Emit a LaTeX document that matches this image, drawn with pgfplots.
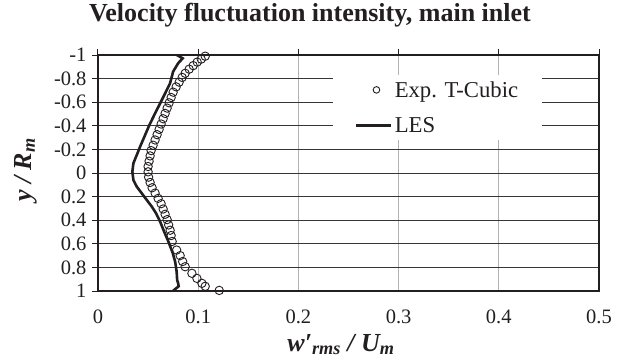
\documentclass[border=0pt]{standalone}
\usepackage{pgfplots}
\pgfplotsset{compat=1.18}
\usepackage{fontspec}
\setmainfont{Liberation Serif}
\definecolor{ink}{HTML}{231F20}
\begin{document}
\begin{tikzpicture}[x=1pt,y=1pt]
\begin{axis}[
  at={(0pt,0pt)}, anchor=south west,
  scale only axis, width=501pt, height=236pt,
  xmin=0, xmax=0.5, ymin=-1, ymax=1, y dir=reverse,
  xtick={0,0.1,0.2,0.3,0.4,0.5},
  xticklabels={0,0.1,0.2,0.3,0.4,0.5},
  ytick={-1,-0.8,-0.6,-0.4,-0.2,0,0.2,0.4,0.6,0.8,1},
  yticklabels={-1,-0.8,-0.6,-0.4,-0.2,0,0.2,0.4,0.6,0.8,1},
  xtick pos=upper, xticklabel pos=lower,
  ytick pos=left,
  tick align=outside,
  major tick length=6pt,
  tick style={ink, line width=1pt},
  tick label style={font=\fontsize{20.5}{22}\selectfont, text=ink},
  xticklabel style={yshift=-9pt},
  yticklabel style={xshift=-2pt},
  xmajorgrids, ymajorgrids,
  x grid style={black!30, line width=1pt},
  y grid style={ink!90, line width=0.9pt},
  axis line style={ink, line width=1.5pt},
  title={\fontsize{26}{28}\selectfont\bfseries Velocity fluctuation intensity, main inlet},
  title style={at={(axis description cs:0.423,1)}, anchor=base, yshift=28pt, text=ink},
  xlabel={\fontsize{26}{28}\selectfont\bfseries\itshape w′\textsubscript{rms} / U\textsubscript{m}},
  xlabel style={at={(axis description cs:0.485,0)}, anchor=base, yshift=-60pt, text=ink},
  ylabel={\fontsize{26}{28}\selectfont\bfseries\itshape y / R\textsubscript{m}},
  ylabel style={at={(axis description cs:-0.145,0.513)}, anchor=center, text=ink},
  legend style={at={(axis description cs:0.469,0.915)}, anchor=north west,
    draw=none, fill=white, font=\fontsize{22.7}{24}\selectfont, text=ink,
    inner xsep=22pt, inner ysep=4pt, row sep=15pt},
  legend cell align=left,
]
\addplot[only marks, mark=o, mark size=4.2pt, ink, mark options={line width=0.9pt},
  legend image code/.code={\path[draw=none] (0pt,0pt) -- (35pt,0pt);
    \draw[ink, line width=0.9pt, fill=none] (20pt,0pt) circle (3.3pt);}]
coordinates {
(0.107,-0.99) (0.103,-0.965) (0.099,-0.94) (0.095,-0.91) (0.091,-0.88)
(0.087,-0.845) (0.084,-0.81) (0.081,-0.77) (0.078,-0.73) (0.075,-0.685)
(0.073,-0.64) (0.071,-0.595) (0.069,-0.55) (0.067,-0.505) (0.065,-0.46)
(0.063,-0.415) (0.061,-0.37) (0.059,-0.325) (0.057,-0.28) (0.055,-0.235)
(0.053,-0.19) (0.052,-0.145) (0.051,-0.10) (0.050,-0.055) (0.050,-0.01)
(0.0505,0.035) (0.052,0.08) (0.054,0.125) (0.057,0.17) (0.060,0.215)
(0.063,0.26) (0.065,0.305) (0.067,0.35) (0.069,0.395) (0.0705,0.44)
(0.072,0.485) (0.073,0.53) (0.074,0.58) (0.0785,0.653) (0.082,0.70)
(0.0845,0.75) (0.087,0.794) (0.0937,0.85) (0.0987,0.893) (0.1037,0.935)
(0.107,0.96) (0.121,0.995)
};
\addlegendentry{Exp. T-Cubic}
\addplot[ink, line width=2.6pt, no marks,
  legend image code/.code={\draw[ink, line width=2.6pt] (0pt,0pt) -- (35pt,0pt);}]
coordinates {
(0.0787,-1) (0.0845,-0.972) (0.080,-0.93) (0.075,-0.86) (0.0719,-0.76)
(0.067,-0.675) (0.062,-0.59) (0.057,-0.506) (0.0513,-0.407) (0.0463,-0.308)
(0.042,-0.223) (0.0387,-0.153) (0.0353,-0.082) (0.0343,-0.011) (0.0353,0.059)
(0.0387,0.116) (0.0437,0.172) (0.0487,0.229) (0.0537,0.285) (0.058,0.342)
(0.062,0.412) (0.066,0.497) (0.0703,0.582) (0.0747,0.681) (0.077,0.752)
(0.0785,0.836) (0.079,0.907) (0.080,0.935) (0.0805,0.96) (0.075,0.998)
};
\addlegendentry{LES}
\end{axis}
\pgfresetboundingbox
\path[use as bounding box] (-98pt,-69pt) rectangle (524pt,291pt);
\end{tikzpicture}
\end{document}
